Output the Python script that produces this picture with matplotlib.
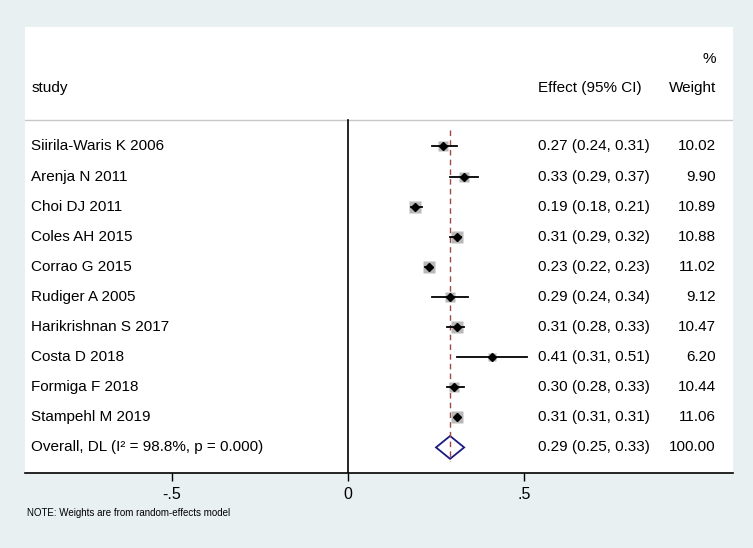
import numpy as np
import matplotlib
matplotlib.use("Agg")
import matplotlib.pyplot as plt

plt.rcParams['font.family'] = ['Liberation Sans', 'DejaVu Sans']

studies = ["Siirila-Waris K 2006", "Arenja N 2011", "Choi DJ 2011", "Coles AH 2015",
           "Corrao G 2015", "Rudiger A 2005", "Harikrishnan S 2017", "Costa D 2018",
           "Formiga F 2018", "Stampehl M 2019"]
es = [0.27, 0.33, 0.19, 0.31, 0.23, 0.29, 0.31, 0.41, 0.30, 0.31]
lo = [0.24, 0.29, 0.18, 0.29, 0.22, 0.24, 0.28, 0.31, 0.28, 0.31]
hi = [0.31, 0.37, 0.21, 0.32, 0.23, 0.34, 0.33, 0.51, 0.33, 0.31]
ci_txt = ["0.27 (0.24, 0.31)", "0.33 (0.29, 0.37)", "0.19 (0.18, 0.21)", "0.31 (0.29, 0.32)",
          "0.23 (0.22, 0.23)", "0.29 (0.24, 0.34)", "0.31 (0.28, 0.33)", "0.41 (0.31, 0.51)",
          "0.30 (0.28, 0.33)", "0.31 (0.31, 0.31)"]
weights = [10.02, 9.90, 10.89, 10.88, 11.02, 9.12, 10.47, 6.20, 10.44, 11.06]
w_txt = ["10.02", "9.90", "10.89", "10.88", "11.02", "9.12", "10.47", "6.20", "10.44", "11.06"]

overall_label = "Overall, DL (I\u00b2 = 98.8%, p = 0.000)"
overall_es, overall_lo, overall_hi = 0.29, 0.25, 0.33
overall_txt = "0.29 (0.25, 0.33)"
overall_w = "100.00"

xticks = [-0.5, 0, 0.5]
xtick_labels = ["-.5", "0", ".5"]

bg = "#e8f0f2"
fig = plt.figure(figsize=(7.53, 5.48), dpi=100, facecolor=bg)
ax = fig.add_axes([25/753, 75/548, 708/753, 446/548])
ax.set_facecolor("white")
ax.set_xlim(-0.918, 1.094)
ax.set_ylim(10.85, -3.97)

for s in ["top", "right", "left"]:
    ax.spines[s].set_visible(False)
ax.spines["bottom"].set_linewidth(1.2)
ax.set_yticks([])
ax.set_xticks(xticks)
ax.set_xticklabels(xtick_labels, fontsize=11.5)
ax.tick_params(axis="x", direction="out", length=6, width=1, pad=4)

fs = 11
# header
ax.text(-0.9, -1.95, "study", fontsize=fs, va="center")
ax.text(0.54, -1.95, "Effect (95% CI)", fontsize=fs, va="center")
ax.text(1.045, -1.95, "Weight", fontsize=fs, va="center", ha="right")
ax.text(1.045, -2.92, "%", fontsize=fs, va="center", ha="right")
ax.axhline(-0.88, color="#c8c8c8", lw=1)

# zero line and overall line
ax.plot([0, 0], [-0.88, 10.9], color="black", lw=1.2)
ax.plot([overall_es, overall_es], [-0.55, 10.45], color="#a04848", lw=1,
        linestyle=(0, (4, 3)))

ppt = 72 / 100
for i in range(len(studies)):
    side = 3.4 * np.sqrt(weights[i]) * ppt
    ax.plot(es[i], i, marker="s", markersize=side, color="#b8b8b8", mec="none")
    ax.plot([lo[i], hi[i]], [i, i], color="black", lw=1.3)
    ax.plot(es[i], i, marker="D", markersize=4.5, color="black")
    ax.text(-0.9, i, studies[i], fontsize=fs, va="center")
    ax.text(0.54, i, ci_txt[i], fontsize=fs, va="center")
    ax.text(1.045, i, w_txt[i], fontsize=fs, va="center", ha="right")

n = len(studies)
ax.fill([overall_lo, overall_es, overall_hi, overall_es],
        [n, n - 0.38, n, n + 0.38], facecolor="none", edgecolor="#1a1a80", lw=1.3)
ax.text(-0.9, n, overall_label, fontsize=fs, va="center")
ax.text(0.54, n, overall_txt, fontsize=fs, va="center")
ax.text(1.045, n, overall_w, fontsize=fs, va="center", ha="right")

fig.text(27/753, 1 - 513/548, "NOTE: Weights are from random-effects model",
         fontsize=7, va="center")

fig.savefig("out.png", dpi=100, facecolor=bg)
